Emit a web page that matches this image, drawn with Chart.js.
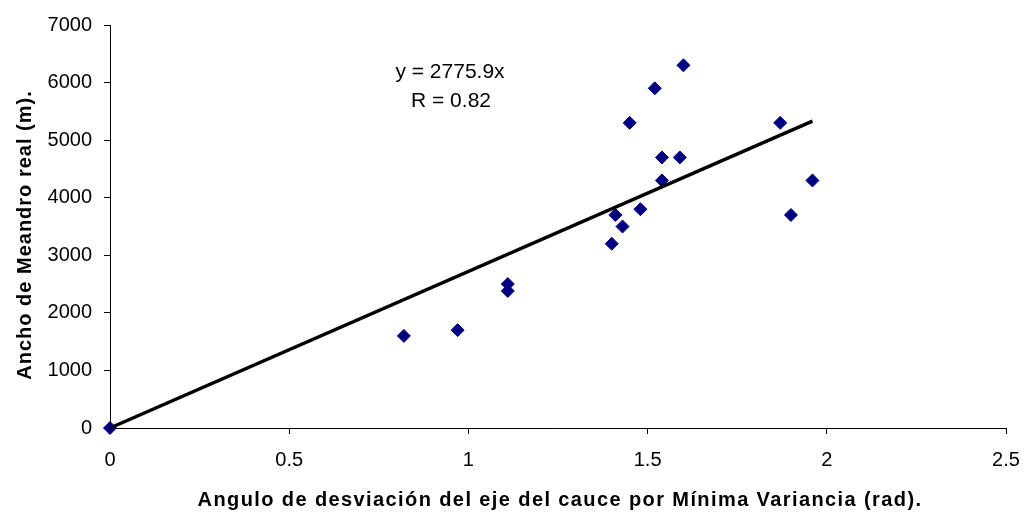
<!DOCTYPE html>
<html>
<head>
<meta charset="utf-8">
<script src="https://cdn.jsdelivr.net/npm/chart.js@4/dist/chart.umd.min.js"></script>
<style>
  html, body { margin: 0; padding: 0; background: #fff; }
  #wrap { width: 1028px; height: 513px; }
</style>
</head>
<body>
<div id="wrap"><canvas id="chart"></canvas></div>
<script>
// measured points (angle rad, meander width m)
const angles = [0, 0.82, 0.97, 1.11, 1.11, 1.40, 1.41, 1.43, 1.48, 1.45, 1.52, 1.54, 1.54, 1.59, 1.60, 1.87, 1.90, 1.96];
const widths = [0, 1600, 1700, 2500, 2380, 3200, 3700, 3500, 3800, 5300, 5900, 4700, 4300, 4700, 6300, 5300, 3700, 4300];

// trend line as drawn
const trendX = [0, 1.96];
const trendY = [0, 5330];

const xTickLabels = ["0", "0.5", "1", "1.5", "2", "2.5"];
const yTickLabels = ["0", "1000", "2000", "3000", "4000", "5000", "6000", "7000"];

const eqText = ["y = 2775.9x", "R = 0.82"];
const xTitle = "Angulo de desviación del eje del cauce por Mínima Variancia (rad).";
const yTitle = "Ancho de Meandro real (m).";

const FONT = "'Liberation Sans', Arial, sans-serif";

const points = angles.map((a, i) => ({ x: a, y: widths[i] }));
const trend = trendX.map((a, i) => ({ x: a, y: trendY[i] }));

// titles + equation drawn by hand (Excel-ish letter spacing)
const textPlugin = {
  id: "texts",
  afterDraw(chart) {
    const ctx = chart.ctx;
    ctx.save();
    ctx.fillStyle = "#000";
    ctx.textAlign = "center";
    ctx.textBaseline = "middle";

    ctx.font = "21px " + FONT;
    ctx.fillText(eqText[0], 450, 72);
    ctx.fillText(eqText[1], 451, 101);

    ctx.font = "bold 20px " + FONT;
    ctx.letterSpacing = "1.4px";
    ctx.fillText(xTitle, 560, 500);

    ctx.letterSpacing = "1px";
    ctx.translate(25, 235);
    ctx.rotate(-Math.PI / 2);
    ctx.fillText(yTitle, 0, 0);
    ctx.restore();
  }
};

new Chart(document.getElementById("chart"), {
  type: "scatter",
  data: {
    datasets: [
      {
        type: "line",
        data: trend,
        borderColor: "#000",
        borderWidth: 3.5,
        pointRadius: 0,
        showLine: true,
        fill: false,
        clip: false,
        order: 0
      },
      {
        data: points,
        pointStyle: "rectRot",
        pointRadius: 6.5,
        pointBorderWidth: 1,
        backgroundColor: "#000080",
        borderColor: "#000080",
        clip: false,
        order: 1
      }
    ]
  },
  options: {
    responsive: true,
    maintainAspectRatio: false,
    animation: false,
    layout: { padding: { top: 25, right: 22, left: 0, bottom: 0 } },
    plugins: {
      legend: { display: false },
      tooltip: { enabled: false }
    },
    scales: {
      x: {
        type: "linear",
        min: 0,
        max: 2.5,
        afterFit: (s) => { s.height = 85; s.paddingLeft = 0; s.paddingRight = 0; },
        afterBuildTicks: (s) => { s.ticks = xTickLabels.map(t => ({ value: Number(t) })); },
        ticks: {
          color: "#000",
          font: { family: FONT, size: 20 },
          padding: 14,
          maxRotation: 0,
          callback: (v, i) => xTickLabels[i]
        },
        grid: { drawOnChartArea: false, drawTicks: true, tickLength: 6, color: "#000" },
        border: { display: true, color: "#000", width: 1 }
      },
      y: {
        type: "linear",
        min: 0,
        max: 7000,
        afterFit: (s) => { s.width = 110; s.paddingTop = 0; s.paddingBottom = 0; },
        afterBuildTicks: (s) => { s.ticks = yTickLabels.map(t => ({ value: Number(t) })); },
        ticks: {
          color: "#000",
          font: { family: FONT, size: 20 },
          padding: 12,
          callback: (v, i) => yTickLabels[i]
        },
        grid: { drawOnChartArea: false, drawTicks: true, tickLength: 6, color: "#000" },
        border: { display: true, color: "#000", width: 1 }
      }
    }
  },
  plugins: [textPlugin]
});
</script>
</body>
</html>
